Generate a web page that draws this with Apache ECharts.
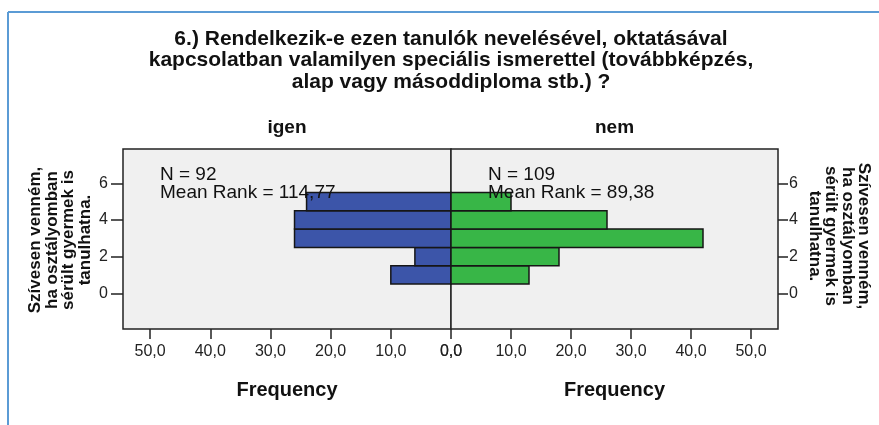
<!DOCTYPE html>
<html>
<head>
<meta charset="utf-8">
<script src="https://cdn.jsdelivr.net/npm/echarts@6/dist/echarts.min.js"></script>
<style>
html,body{margin:0;padding:0;background:#fff;}
#chart{width:879px;height:425px;}
</style>
</head>
<body>
<div id="chart"></div>
<script>
// ---- data ----
const titleLines = [
  "6.) Rendelkezik-e ezen tanulók nevelésével, oktatásával",
  "kapcsolatban valamilyen speciális ismerettel (továbbképzés,",
  "alap vagy másoddiploma stb.) ?"
];
const groups = ["igen", "nem"];
const bins = [1, 2, 3, 4, 5];
const igenFreq = [10, 6, 26, 26, 24];
const nemFreq = [13, 18, 42, 26, 10];
const statsIgen = ["N = 92", "Mean Rank = 114,77"];
const statsNem = ["N = 109", "Mean Rank = 89,38"];
const xTicks = [0, 10, 20, 30, 40, 50];
const yTicks = [0, 2, 4, 6];
const yName = ["Szívesen venném,", "ha osztályomban", "sérült gyermek is", "tanulhatna."];
const xName = "Frequency";

// ---- chart ----
const chart = echarts.init(document.getElementById('chart'), null, {renderer: 'canvas'});
const fmt = v => v.toFixed(1).replace('.', ',');
const font = 'Liberation Sans, Arial, sans-serif';
const narrow = 'Liberation Sans Narrow, Liberation Sans, Arial, sans-serif';

function makeData(freqs) { return bins.map((b, i) => [freqs[i], b]); }

function barRender(fill) {
  return function (params, api) {
    const f = api.value(0), y = api.value(1);
    const p0 = api.coord([0, y + 0.5]);
    const p1 = api.coord([f, y - 0.5]);
    return {
      type: 'rect',
      shape: {
        x: Math.min(p0[0], p1[0]), y: Math.min(p0[1], p1[1]),
        width: Math.abs(p1[0] - p0[0]), height: Math.abs(p1[1] - p0[1])
      },
      style: {fill: fill, stroke: '#161616', lineWidth: 1.5}
    };
  };
}

const xAxisCommon = {
  type: 'value', min: 0, max: 54.5,
  axisLine: {show: false, onZero: false},
  splitLine: {show: false},
  axisTick: {show: true, length: 10, customValues: xTicks, lineStyle: {color: '#222', width: 1.5}},
  axisLabel: {customValues: xTicks, formatter: fmt, color: '#222', fontSize: 16, fontFamily: font, margin: 15},
  name: xName, nameLocation: 'middle', nameGap: 51,
  nameTextStyle: {fontSize: 20, fontWeight: 'bold', fontFamily: font, color: '#111'}
};
const yAxisCommon = {
  type: 'value', min: -1.95, max: 7.87,
  axisLine: {show: false, onZero: false},
  splitLine: {show: false},
  axisTick: {show: true, length: 12, customValues: yTicks, lineStyle: {color: '#222', width: 1.5}},
  axisLabel: {customValues: yTicks, color: '#222', fontSize: 16, fontFamily: font}
};

const option = {
  animation: false,
  backgroundColor: '#ffffff',
  title: {
    text: titleLines.join('\n'),
    left: 446, top: 23, textAlign: 'center',
    textStyle: {fontFamily: narrow, fontWeight: 'bold', fontSize: 21, lineHeight: 21.5, color: '#111'}
  },
  grid: [
    {left: 123, top: 149, width: 328, height: 180, show: true, backgroundColor: '#f0f0f0', borderColor: '#222', borderWidth: 1.5},
    {left: 451, top: 149, width: 327, height: 180, show: true, backgroundColor: '#f0f0f0', borderColor: '#222', borderWidth: 1.5}
  ],
  xAxis: [
    Object.assign({gridIndex: 0, inverse: true, position: 'bottom'}, xAxisCommon),
    Object.assign({gridIndex: 1, position: 'bottom'}, xAxisCommon)
  ],
  yAxis: [
    Object.assign({gridIndex: 0, position: 'left'}, yAxisCommon, {axisLabel: Object.assign({}, yAxisCommon.axisLabel, {margin: 15})}),
    Object.assign({gridIndex: 1, position: 'right'}, yAxisCommon, {
      axisTick: Object.assign({}, yAxisCommon.axisTick, {length: 10}),
      axisLabel: Object.assign({}, yAxisCommon.axisLabel, {margin: 11})
    })
  ],
  series: [
    {type: 'custom', name: groups[0], xAxisIndex: 0, yAxisIndex: 0, encode: {x: 0, y: 1},
      data: makeData(igenFreq), renderItem: barRender('#3c55a9'), z: 2},
    {type: 'custom', name: groups[1], xAxisIndex: 1, yAxisIndex: 1, encode: {x: 0, y: 1},
      data: makeData(nemFreq), renderItem: barRender('#38b647'), z: 2}
  ],
  graphic: [
    {type: 'line', shape: {x1: 8, y1: 12, x2: 8, y2: 425}, style: {stroke: '#5b9bd5', lineWidth: 2}, z: 50},
    {type: 'line', shape: {x1: 8, y1: 12, x2: 879, y2: 12}, style: {stroke: '#5b9bd5', lineWidth: 2}, z: 50},
    {type: 'text', x: 287, y: 128, z: 50, style: {text: groups[0], textAlign: 'center', textVerticalAlign: 'middle',
      font: 'bold 19px ' + narrow, fill: '#111'}},
    {type: 'text', x: 614.5, y: 128, z: 50, style: {text: groups[1], textAlign: 'center', textVerticalAlign: 'middle',
      font: 'bold 19px ' + narrow, fill: '#111'}},
    {type: 'text', x: 160, y: 166, z: 100, style: {text: statsIgen.join('\n'), textAlign: 'left', textVerticalAlign: 'top',
      font: '19px ' + font, lineHeight: 18, fill: '#111'}},
    {type: 'text', x: 488, y: 166, z: 100, style: {text: statsNem.join('\n'), textAlign: 'left', textVerticalAlign: 'top',
      font: '19px ' + font, lineHeight: 18, fill: '#111'}},
    {type: 'text', x: 60.5, y: 240, rotation: Math.PI / 2, z: 50, style: {text: yName.join('\n'), textAlign: 'center', textVerticalAlign: 'middle',
      font: 'bold 17px ' + font, lineHeight: 16.5, fill: '#111'}},
    {type: 'text', x: 839, y: 236, rotation: -Math.PI / 2, z: 50, style: {text: yName.join('\n'), textAlign: 'center', textVerticalAlign: 'middle',
      font: 'bold 17px ' + font, lineHeight: 16.5, fill: '#111'}}
  ]
};
chart.setOption(option);
</script>
</body>
</html>
